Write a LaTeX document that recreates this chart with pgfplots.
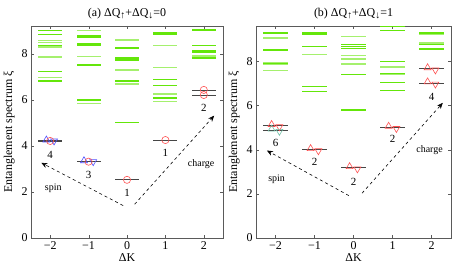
\documentclass[border=0pt]{standalone}
\usepackage{fontspec}
\setmainfont{Liberation Serif}
\usepackage{pgfplots}
\usepackage{pgfplotstable}
\pgfplotsset{compat=1.18}
\usetikzlibrary{arrows.meta}
\definecolor{gs}{RGB}{100,230,10}
\definecolor{gl}{RGB}{165,240,110}
\definecolor{bk}{RGB}{70,70,70}
\definecolor{mred}{RGB}{255,80,80}
\definecolor{mblue}{RGB}{80,80,255}
\definecolor{mteal}{RGB}{110,190,165}
\definecolor{frame}{RGB}{90,90,90}

% panel (a) levels
\pgfplotstableread{
x y
-2 9.03
-2 8.85
-2 8.36
-2 7.23
-2 6.82
-1 8.78
-1 8.72
-1 8.44
-1 8.36
-1 7.52
-1 6.00
0 8.27
0 7.84
0 7.79
0 7.74
0 6.83
0 5.01
1 8.94
1 8.88
1 6.90
1 6.64
1 6.12
1 6.07
2 9.04
2 8.36
2 8.13
2 8.07
2 7.83
}\As
\pgfplotstableread{
x y
-2 8.58
-2 8.51
-2 8.30
-2 7.87
-2 6.99
-1 9.03
-1 7.90
-1 5.86
0 8.61
0 7.30
0 6.70
1 8.36
1 7.42
1 6.26
1 5.93
2 7.91
}\Al
\pgfplotstableread{
x y
-2 4.26
-2 4.20
-1 3.34
0 2.53
1 4.26
2 6.42
2 6.22
}\Ak
% panel (b) levels
\pgfplotstableread{
x y
-2 9.29
-2 8.52
-2 7.90
-1 9.29
-1 9.22
-1 8.68
-1 6.86
-1 6.64
0 8.77
0 8.67
0 8.59
0 7.40
0 5.80
1 9.57
1 9.39
1 7.99
1 7.46
1 7.05
1 6.67
2 9.29
2 8.76
2 8.56
}\Bs
\pgfplotstableread{
x y
-2 9.06
-2 7.95
-2 7.85
-2 7.58
-1 8.30
0 9.12
0 8.26
0 8.11
0 7.88
1 7.75
1 7.41
2 9.22
2 8.83
}\Bl
\pgfplotstableread{
x y
-2 5.09
-2 4.88
-1 4.00
0 3.18
1 5.01
2 7.66
2 7.02
}\Bk

\pgfplotsset{
 base/.style={scale only axis, height=212bp, xmin=-2.5, xmax=2.5, ymin=0,
  xtick={-2,...,2}, xticklabels={−2,−1,0,1,2}, ytick={0,2,4,6,8},
  tick align=inside, major tick length=3bp,
  axis line style={frame}, tick style={frame},
  ticklabel style={font=\fontsize{12}{12}\selectfont},
  /pgf/number format/assume math mode=true,
  label style={font=\fontsize{12}{12}\selectfont},
  xlabel={ΔK}, ylabel={Entanglement spectrum ξ},
  xlabel style={yshift=3bp},
  title style={font=\fontsize{12}{12}\selectfont, yshift=-3bp},
  clip=false},
 lev/.style n args={2}{draw=none, mark=none, forget plot,
  error bars/.cd, x dir=both, x fixed=0.31, error mark=none,
  error bar style={draw=#1, line width=#2, solid}},
}
\tikzset{
 lab/.style={font=\fontsize{11}{11}\selectfont},
 sml/.style={font=\fontsize{10}{10}\selectfont},
}
\newcommand{\sub}[1]{\raisebox{-0.35ex}{\fontsize{10}{10}\selectfont #1}}

\begin{document}
\begin{tikzpicture}
\useasboundingbox (0,0) rectangle (457bp,270bp);
% ---------------- panel (a)
\begin{axis}[base, width=192bp, ymax=9.22, at={(31bp,32bp)}, anchor=south west,
  title={(a) ΔQ\sub{↑}+ΔQ\sub{↓}=0}]
\addplot[lev={gl}{1.3bp}] table {\Al};
\addplot[lev={gs}{1.4bp}] table {\As};
\addplot[lev={bk}{0.8bp}] table {\Ak};
\addplot[only marks, mark=triangle, mark size=4bp, mblue, mark options={line width=0.6bp}] coordinates {(-2.1,4.26) (-1.12,3.36)};
\addplot[only marks, mark=triangle, mark size=4bp, mblue, mark options={rotate=180, line width=0.6bp}] coordinates {(-1.9,4.22) (-0.88,3.32)};
\addplot[only marks, mark=o, mark size=3.6bp, mred, mark options={line width=0.6bp}] coordinates {(-2,4.22) (-1,3.32) (0,2.53) (1,4.26) (2,6.44) (2,6.22)};
\addplot[dashed, line width=0.6bp, -{Stealth[length=6bp,width=5bp]}] coordinates {(-0.1,1.41) (-2.23,3.27)};
\addplot[dashed, line width=0.6bp, -{Stealth[length=6bp,width=5bp]}] coordinates {(0.2,1.47) (2.27,5.32)};
\node[lab] at (axis cs:-2,3.6) {4};
\node[lab] at (axis cs:-1,2.74) {3};
\node[lab] at (axis cs:0,1.95) {1};
\node[lab] at (axis cs:1,3.7) {1};
\node[lab] at (axis cs:2,5.65) {2};
\node[sml] at (axis cs:-1.92,2.17) {spin};
\node[sml] at (axis cs:1.93,3.2) {charge};
\end{axis}
% ---------------- panel (b)
\begin{axis}[base, width=195bp, ymax=9.6, at={(256bp,32bp)}, anchor=south west,
  title={(b) ΔQ\sub{↑}+ΔQ\sub{↓}=1}]
\addplot[lev={gl}{1.3bp}] table {\Bl};
\addplot[lev={gs}{1.4bp}] table {\Bs};
\addplot[lev={bk}{0.8bp}] table {\Bk};
\addplot[only marks, mark=triangle, mark size=4bp, mred, mark options={line width=0.6bp}] coordinates {(-2.1,5.14) (-1.1,4.05) (-0.1,3.23) (0.9,5.06) (1.9,7.71) (1.9,7.07)};
\addplot[only marks, mark=triangle, mark size=4bp, mred, mark options={rotate=180, line width=0.6bp}] coordinates {(-1.9,5.04) (-0.9,3.95) (0.1,3.13) (1.1,4.96) (2.1,7.61) (2.1,6.97)};
\addplot[only marks, mark=triangle, mark size=4bp, mteal, mark options={line width=0.6bp}] coordinates {(-2.1,4.93)};
\addplot[only marks, mark=triangle, mark size=4bp, mteal, mark options={rotate=180, line width=0.6bp}] coordinates {(-1.9,4.83)};
\addplot[dashed, line width=0.6bp, -{Stealth[length=6bp,width=5bp]}] coordinates {(-0.12,1.92) (-2.22,3.96)};
\addplot[dashed, line width=0.6bp, -{Stealth[length=6bp,width=5bp]}] coordinates {(0.22,2.03) (2.29,6.12)};
\node[lab] at (axis cs:-2,4.32) {6};
\node[lab] at (axis cs:-1,3.43) {2};
\node[lab] at (axis cs:0,2.56) {2};
\node[lab] at (axis cs:1,4.5) {2};
\node[lab] at (axis cs:2,6.4) {4};
\node[sml] at (axis cs:-1.97,2.65) {spin};
\node[sml] at (axis cs:1.95,3.96) {charge};
\end{axis}
\end{tikzpicture}
\end{document}
